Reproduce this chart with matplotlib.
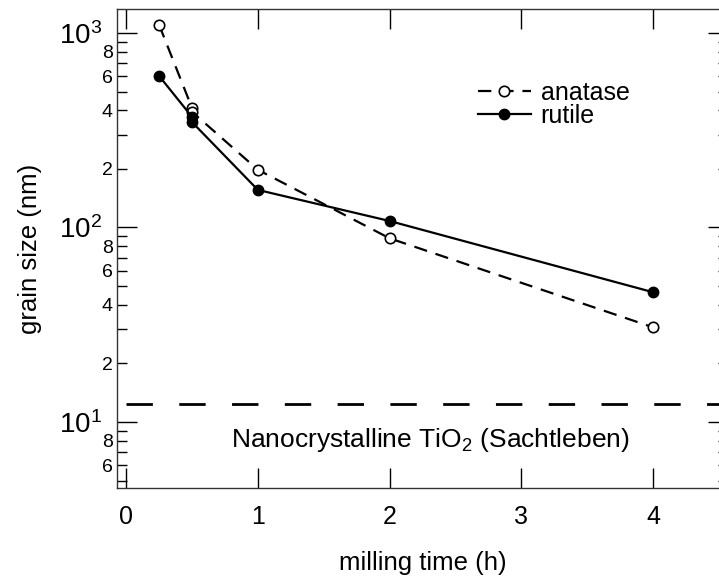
import matplotlib
matplotlib.use("Agg")
import matplotlib.pyplot as plt
import numpy as np

plt.rcParams['font.family'] = ['Liberation Sans', 'DejaVu Sans']
plt.rcParams['mathtext.fontset'] = 'custom'
plt.rcParams['mathtext.rm'] = 'Liberation Sans'

# milling time (h) and grain size (nm)
time_anatase = [0.25, 0.5, 0.5, 1, 2, 4]
size_anatase = [1100, 411, 393, 198, 88, 30.7]
time_rutile = [0.25, 0.5, 0.5, 1, 2, 4]
size_rutile = [601, 370, 348, 156, 108, 46.5]
sachtleben_size = 12.4

xticks = [0, 1, 2, 3, 4]
ymajor = [10, 100, 1000]
ymajor_labels = [r'$\mathregular{10^1}$', r'$\mathregular{10^2}$', r'$\mathregular{10^3}$']

fig = plt.figure(figsize=(7.19, 5.79), dpi=100)
ax = fig.add_axes([117/719, 91/579, 611/719, 479/579])

ax.plot(time_anatase, size_anatase, color='black', lw=1.6, dashes=(6, 4),
        marker='o', ms=7.5, mfc='white', mec='black', mew=1.2, label='anatase')
ax.plot(time_rutile, size_rutile, color='black', lw=1.6,
        marker='o', ms=7.5, mfc='black', mec='black', label='rutile')
ax.plot([0, 4.6], [sachtleben_size, sachtleben_size], color='black', lw=2,
        dashes=(9.5, 9.5))
ax.text(2.31, 8.1, r'Nanocrystalline TiO$_2$ (Sachtleben)', fontsize=19,
        ha='center', va='center')

ax.set_yscale('log')
ax.set_xlim(-0.07, 4.57)
ax.set_ylim(4.58, 1328)

ax.set_xticks(xticks)
ax.set_xticklabels([str(t) for t in xticks], fontsize=18)
ax.set_yticks(ymajor)
ax.set_yticklabels(ymajor_labels, fontsize=20)
minor = [m * d for d in [1, 10, 100, 1000] for m in range(2, 10)]
minor = [v for v in minor if 4.58 < v < 1328]
ax.set_yticks(minor, minor=True)
ax.set_yticklabels([str(int(round(v / 10**np.floor(np.log10(v))))) if
                    int(round(v / 10**np.floor(np.log10(v)))) % 2 == 0 else ''
                    for v in minor], minor=True, fontsize=14)
ax.xaxis.set_minor_locator(matplotlib.ticker.NullLocator())

ax.tick_params(axis='both', which='major', direction='in', length=14.4,
               width=1, top=True, right=True)
ax.tick_params(axis='both', which='minor', direction='in', length=7.2,
               width=1, right=True)
ax.tick_params(axis='y', which='major', pad=11)
ax.tick_params(axis='y', which='minor', pad=3)
ax.tick_params(axis='x', which='major', pad=12)

for s in ['left', 'bottom', 'top', 'right']:
    ax.spines[s].set_linewidth(1)
    ax.spines[s].set_color('#333333')

ax.set_xlabel('milling time (h)', fontsize=18.5, labelpad=16)
ax.set_ylabel('grain size (nm)', fontsize=18.5, labelpad=12)

ax.legend(loc='upper left', bbox_to_anchor=(0.591, 0.85), frameon=False,
          fontsize=18, handlelength=2.1, handletextpad=0.4, labelspacing=-0.05,
          borderpad=0, borderaxespad=0)

fig.savefig('out.png', dpi=100)
